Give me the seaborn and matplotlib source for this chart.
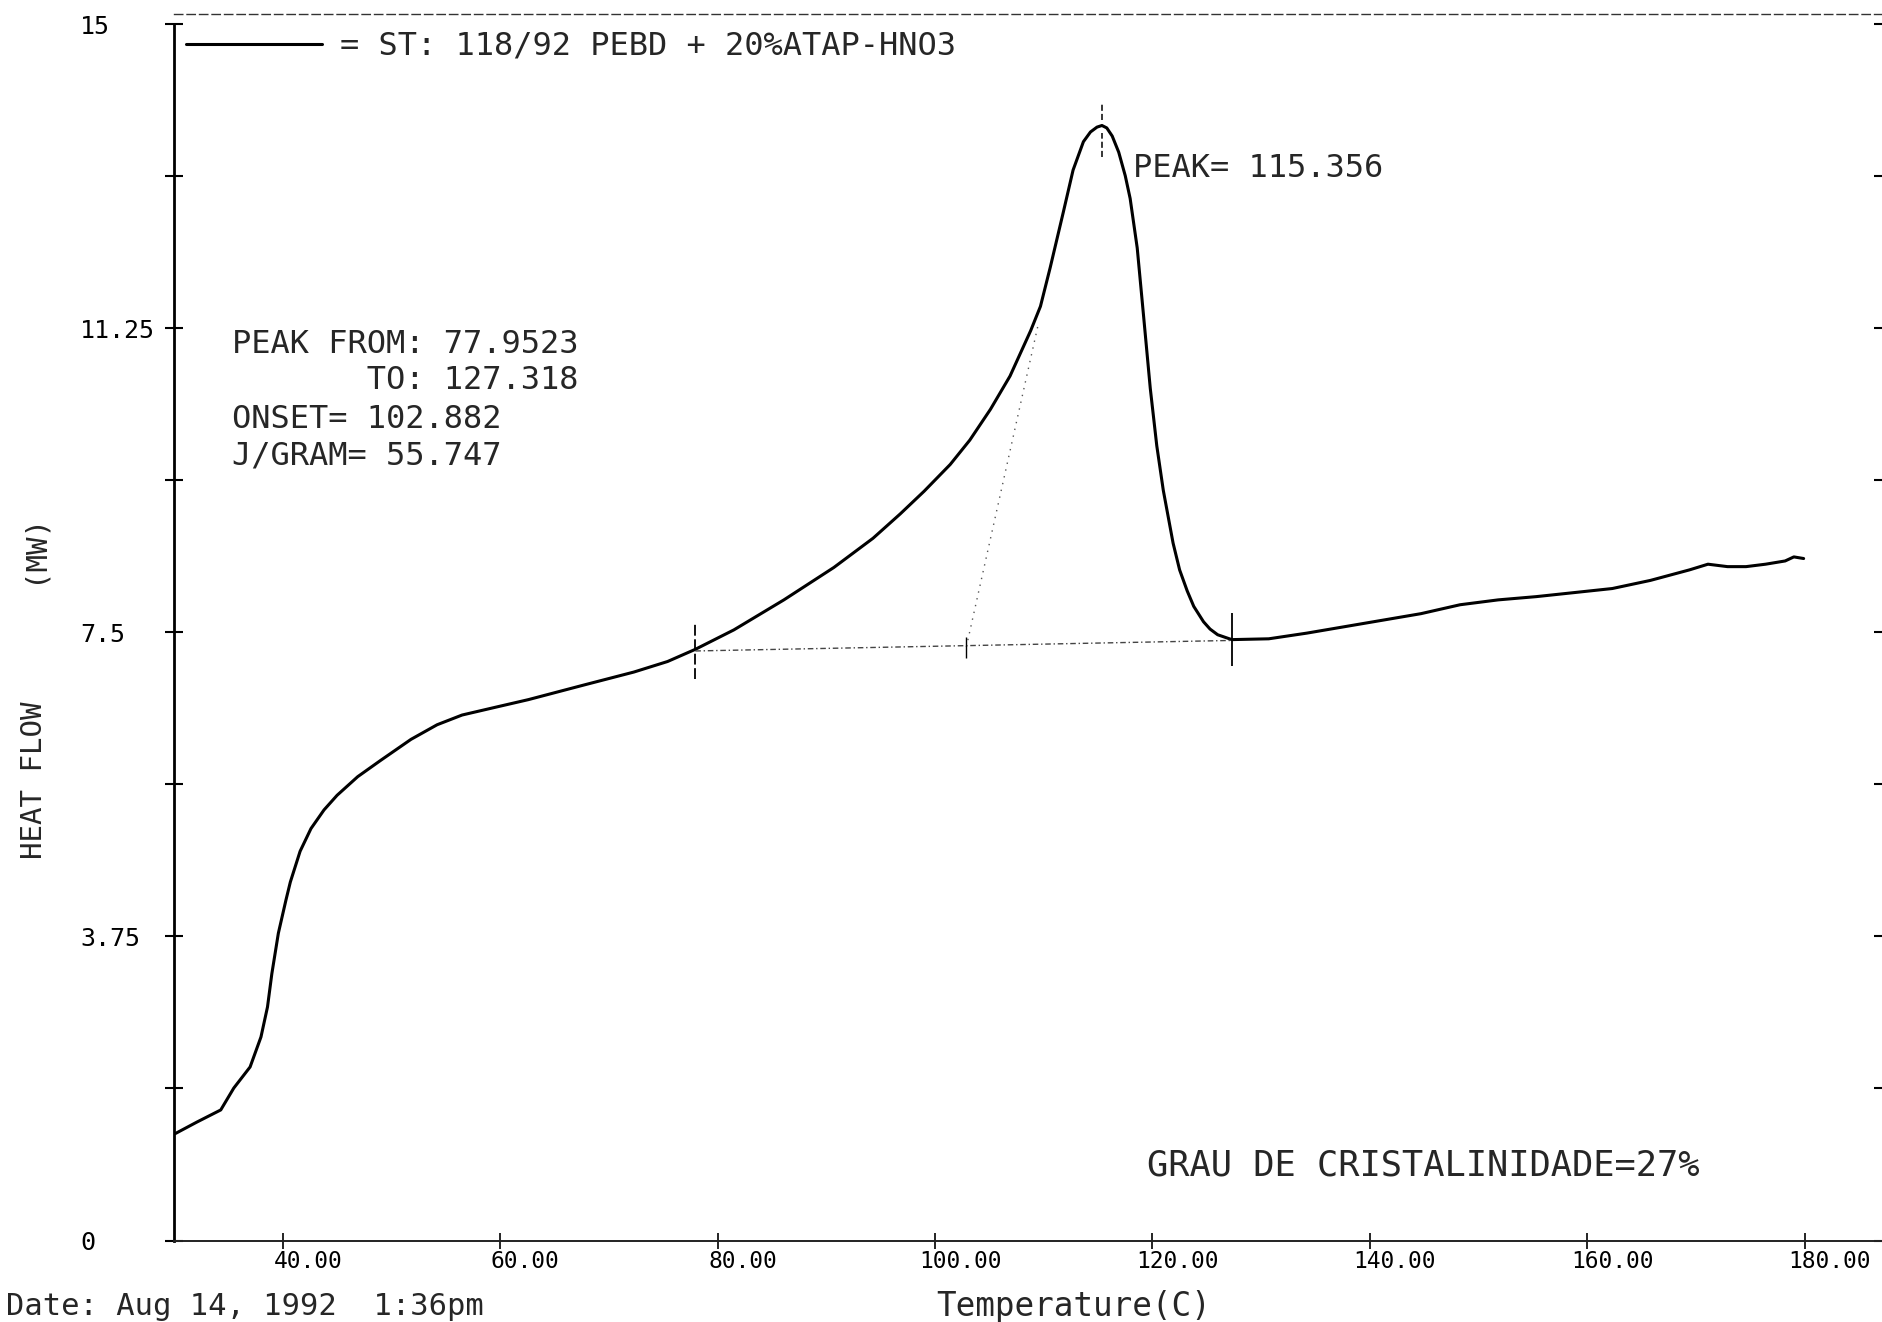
import matplotlib
matplotlib.use("Agg")
import matplotlib.pyplot as plt
import matplotlib.transforms as mtransforms
from matplotlib.ticker import FixedLocator
import seaborn as sns

# DSC heating scan: temperature (C) and heat flow (mW)
temperature = [30.0, 32.1, 34.3, 35.5, 37.0, 38.0, 38.6, 39.0, 39.6, 40.3,
               40.7, 41.6, 42.6, 43.8, 45.0, 46.9, 49.0, 51.8, 54.2, 56.5,
               59.7, 62.6, 67.7, 72.3, 75.4, 77.95, 81.5, 86.1, 90.7, 94.3,
               96.8, 99.0, 101.4, 103.2, 105.1, 106.9, 108.8, 109.7, 110.6, 111.8,
               112.7, 113.65, 114.3, 114.9, 115.356, 115.8, 116.3, 116.9, 117.5, 117.95,
               118.6, 119.2, 119.8, 120.4, 121.0, 121.9, 122.5, 123.2, 123.8, 124.7,
               125.3, 126.0, 127.3, 130.7, 134.2, 137.7, 141.2, 144.7, 148.3, 151.8,
               155.3, 158.8, 162.3, 165.8, 169.4, 171.1, 172.9, 174.6, 176.4, 178.2,
               179.0, 179.9]
heat_flow = [1.31, 1.46, 1.61, 1.88, 2.14, 2.51, 2.88, 3.29, 3.79, 4.20,
             4.42, 4.80, 5.08, 5.31, 5.49, 5.72, 5.92, 6.18, 6.36, 6.48,
             6.58, 6.67, 6.85, 7.01, 7.14, 7.29, 7.53, 7.90, 8.30, 8.66,
             8.96, 9.24, 9.57, 9.87, 10.25, 10.66, 11.22, 11.52, 12.00, 12.68,
             13.20, 13.55, 13.67, 13.73, 13.75, 13.72, 13.62, 13.42, 13.13, 12.85,
             12.24, 11.38, 10.51, 9.80, 9.25, 8.60, 8.27, 8.01, 7.82, 7.63,
             7.54, 7.47, 7.41, 7.42, 7.49, 7.57, 7.65, 7.73, 7.84, 7.90,
             7.94, 7.99, 8.04, 8.14, 8.27, 8.34, 8.31, 8.31, 8.34, 8.38,
             8.43, 8.41]

# Peak analysis results
peak_from = 77.9523
peak_to = 127.318
onset = 102.882
peak_temp = 115.356
j_per_gram = 55.747
crystallinity = 27

# Integration baseline and onset tangent
baseline_temp = [peak_from, peak_to]
baseline_flow = [7.27, 7.40]
tangent_temp = [onset, 109.5]
tangent_flow = [7.32, 11.30]

# Short vertical markers: limits, peak and onset
limit_temp = [peak_from, peak_to]
limit_low = [6.93, 7.08]
limit_high = [7.60, 7.74]
peak_dash_low = [13.82, 13.36]
peak_dash_high = [14.04, 13.66]
onset_low, onset_high = 7.18, 7.44

x_ticks = [40, 60, 80, 100, 120, 140, 160, 180]
x_tick_labels = ["40.00", "60.00", "80.00", "100.00", "120.00", "140.00", "160.00", "180.00"]
y_ticks = [0, 3.75, 7.5, 11.25, 15]
y_tick_labels = ["0", "3.75", "7.5", "11.25", "15"]
y_minor_ticks = [1.875, 5.625, 9.375, 13.125]

sample_label = "= ST: 118/92 PEBD + 20%ATAP-HNO3"

sns.set_style("white")
plt.rcParams["font.family"] = ["DejaVu Sans Mono", "DejaVu Sans"]

W, H = 1883, 1322
fig = plt.figure(figsize=(W / 100, H / 100), dpi=100)
ax = fig.add_axes([174 / W, (H - 1240.5) / H, 1 - 174 / W, (1240.5 - 14.4) / H])

sns.lineplot(x=temperature, y=heat_flow, ax=ax, color="black", linewidth=2.2,
             sort=False, estimator=None, label=sample_label)

# baseline and onset construction
ax.plot(baseline_temp, baseline_flow, color="#444444", linewidth=1.0,
        linestyle=(0, (4, 2, 1, 2)))
ax.plot(tangent_temp, tangent_flow, color="#555555", linewidth=1.0,
        linestyle=(0, (1, 4)))
ax.vlines(limit_temp, limit_low, limit_high, colors="black", linewidth=1.3,
          linestyles=[(0, (6, 2)), "solid"])
ax.vlines([peak_temp, peak_temp], peak_dash_low, peak_dash_high, colors="black",
          linewidth=1.1, linestyles=(0, (4, 2)))
ax.vlines([onset], [onset_low], [onset_high], colors="black", linewidth=1.0)

ax.set_xlim(30, 187.2)
ax.set_ylim(0, 15.12)

# axes frame
ax.spines["right"].set_visible(False)
ax.spines["left"].set_linewidth(2.0)
ax.spines["left"].set_color("black")
ax.spines["left"].set_bounds(0, 15)
ax.spines["bottom"].set_linewidth(1.4)
ax.spines["bottom"].set_color("#222222")
ax.spines["top"].set_linewidth(1.0)
ax.spines["top"].set_color("#333333")
ax.spines["top"].set_linestyle((0, (6, 3)))

ax.set_xticks(x_ticks)
ax.set_xticklabels(x_tick_labels)
ax.set_yticks(y_ticks)
ax.set_yticklabels(y_tick_labels)
ax.yaxis.set_minor_locator(FixedLocator(y_minor_ticks))

ax.tick_params(axis="y", which="both", direction="inout", length=13, width=1.5,
               left=True, right=True, labelsize=18, pad=61, colors="black")
ax.tick_params(axis="x", which="major", direction="inout", length=12, width=1.2,
               bottom=True, top=False, labelsize=16.5, pad=1, colors="black")
for lab in ax.get_yticklabels():
    lab.set_horizontalalignment("left")
shift = mtransforms.ScaledTranslation(0.25, 0, fig.dpi_scale_trans)
for lab in ax.get_xticklabels():
    lab.set_transform(lab.get_transform() + shift)

ax.set_xlabel("Temperature(C)", fontsize=23.5, va="center")
ax.xaxis.set_label_coords(0.5264, -0.0539)
ax.set_ylabel("")

fig.text(33.6 / W, 1 - 780.6 / H, "HEAT FLOW", rotation=90, ha="center", va="center", fontsize=21)
fig.text(33.6 / W, 1 - 547.6 / H, "(MW)", rotation=90, ha="center", va="center", fontsize=21)
fig.text(6 / W, 1 - 1306.6 / H, "Date: Aug 14, 1992  1:36pm", ha="left", va="center", fontsize=22)

# analysis annotations
ax.text(35.37, 11.05, f"PEAK FROM: {peak_from}", va="center", fontsize=23)
ax.text(35.37, 10.60, f"       TO: {peak_to}", va="center", fontsize=23)
ax.text(35.37, 10.13, f"ONSET= {onset}", va="center", fontsize=23)
ax.text(35.37, 9.67, f"J/GRAM= {j_per_gram}", va="center", fontsize=23)
ax.text(118.17, 13.22, f"PEAK= {peak_temp}", va="center", fontsize=23)
ax.text(119.5, 0.92, f"GRAU DE CRISTALINIDADE={crystallinity}%", va="center", fontsize=25.5)

ax.legend(loc="center left", bbox_to_anchor=(0.007, 0.974), frameon=False,
          fontsize=23, handlelength=4.26, handletextpad=0.56, borderpad=0,
          borderaxespad=0)

fig.savefig("out.png", dpi=100, facecolor="white")
